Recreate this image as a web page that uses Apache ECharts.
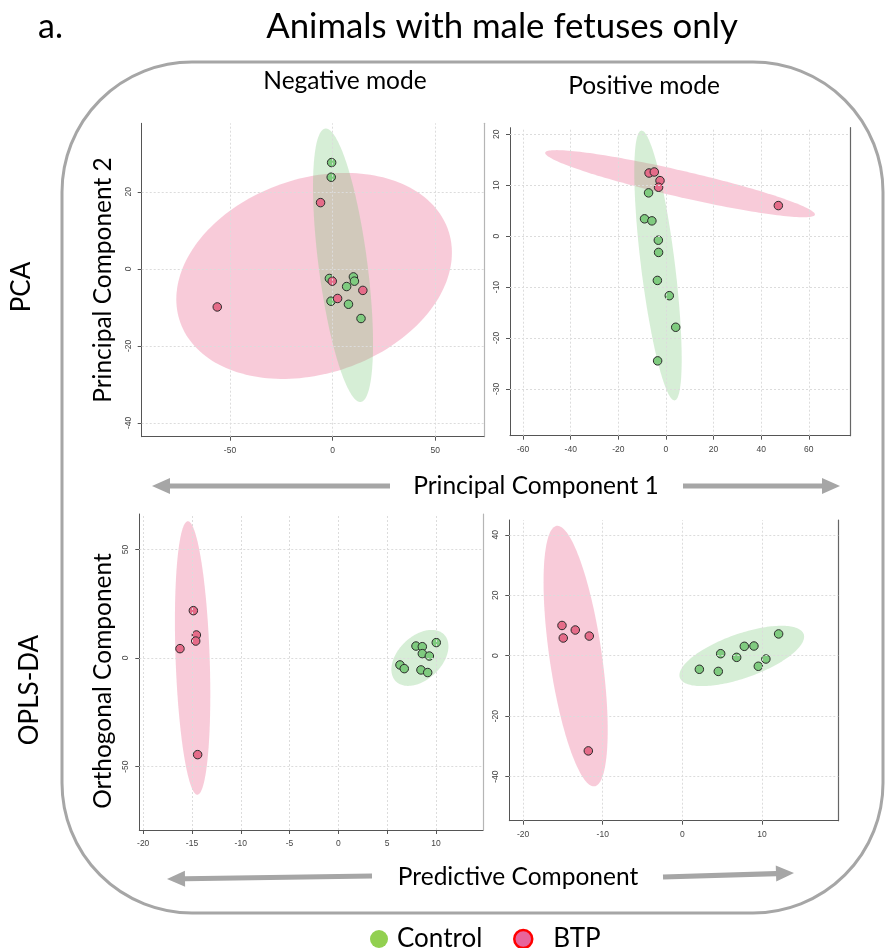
<!DOCTYPE html>
<html>
<head>
<meta charset="utf-8">
<script src="https://cdn.jsdelivr.net/npm/echarts@6/dist/echarts.min.js"></script>
<style>
  html, body { margin: 0; padding: 0; background: #fff; }
  #chart { width: 885px; height: 948px; }
</style>
</head>
<body>
<div id="chart"></div>
<script>
// Score coordinates per sample, [x, y]
const pcaNegControl = [[-0.5, 27.6], [-0.7, 23.8], [-1.6, -2.5], [10.1, -2.1], [10.6, -3.2], [6.8, -4.6], [-0.8, -8.4], [7.7, -9.2], [13.8, -12.9]];
const pcaNegBTP = [[-5.9, 17.2], [-56.2, -9.9], [-0.2, -3.2], [2.4, -7.7], [14.7, -5.6]];
const pcaPosControl = [[-7.3, 8.5], [-9.0, 3.4], [-5.9, 3.0], [-3.2, -0.8], [-3.1, -3.2], [-3.6, -8.7], [1.4, -11.7], [4.1, -17.9], [-3.5, -24.5]];
const pcaPosBTP = [[-7.1, 12.4], [-4.9, 12.6], [-2.5, 10.9], [-3.1, 9.6], [47.2, 6.0]];
const oplsNegControl = [[7.96, 5.5], [8.61, 5.2], [10.04, 7.1], [8.61, 2.0], [9.33, 0.9], [6.32, -3.2], [6.76, -4.9], [8.47, -5.5], [9.16, -6.7]];
const oplsNegBTP = [[-14.86, 21.8], [-14.55, 10.6], [-14.62, 7.8], [-16.23, 4.3], [-14.42, -44.5]];
const oplsPosControl = [[2.14, -4.5], [4.52, -5.2], [4.82, 0.66], [6.83, -0.55], [7.79, 3.1], [9.0, 3.2], [9.55, -3.5], [10.5, -1.1], [12.1, 7.2]];
const oplsPosBTP = [[-15.12, 10.0], [-14.96, 5.85], [-13.45, 8.5], [-11.69, 6.5], [-11.81, -31.5]];

// Tick values per panel
const pcaNegXTicks = [-50, 0, 50];
const pcaNegYTicks = [-40, -20, 0, 20];
const pcaPosXTicks = [-60, -40, -20, 0, 20, 40, 60];
const pcaPosYTicks = [-30, -20, -10, 0, 10, 20];
const oplsNegXTicks = [-20, -15, -10, -5, 0, 5, 10];
const oplsNegYTicks = [-50, 0, 50];
const oplsPosXTicks = [-20, -10, 0, 10];
const oplsPosYTicks = [-40, -20, 0, 20, 40];

const groupNames = ['Control', 'BTP'];

// Panel layout (pixels) and axis extents
const panels = [
  { control: pcaNegControl, btp: pcaNegBTP, xTicks: pcaNegXTicks, yTicks: pcaNegYTicks,
    grid: { left: 141.7, top: 123.3, width: 342.3, height: 313.4 },
    x: [-93, 73.7], y: [-43.6, 37.8], rightColor: '#b5b5b5' },
  { control: pcaPosControl, btp: pcaPosBTP, xTicks: pcaPosXTicks, yTicks: pcaPosYTicks,
    grid: { left: 510, top: 127.7, width: 340, height: 308 },
    x: [-65.5, 77.3], y: [-39.2, 21.3], rightColor: '#666' },
  { control: oplsNegControl, btp: oplsNegBTP, xTicks: oplsNegXTicks, yTicks: oplsNegYTicks,
    grid: { left: 139.3, top: 514, width: 343.7, height: 316 },
    x: [-20.4, 14.83], y: [-79.2, 66.3], rightColor: '#b5b5b5' },
  { control: oplsPosControl, btp: oplsPosBTP, xTicks: oplsPosXTicks, yTicks: oplsPosYTicks,
    grid: { left: 509.3, top: 520, width: 329, height: 300.7 },
    x: [-21.74, 19.6], y: [-54.6, 44.9], rightColor: '#666' }
];

// 95% confidence ellipse of a group (chi-square, 2 df), from mean and covariance
function confidenceEllipse(points) {
  const n = points.length;
  let mx = 0, my = 0;
  points.forEach(p => { mx += p[0]; my += p[1]; });
  mx /= n; my /= n;
  let sxx = 0, syy = 0, sxy = 0;
  points.forEach(p => {
    const dx = p[0] - mx, dy = p[1] - my;
    sxx += dx * dx; syy += dy * dy; sxy += dx * dy;
  });
  sxx /= (n - 1); syy /= (n - 1); sxy /= (n - 1);
  const a = Math.sqrt(sxx);
  const b = sxy / a;
  const c = Math.sqrt(Math.max(syy - b * b, 0));
  const r = Math.sqrt(-2 * Math.log(0.05));
  const poly = [];
  for (let i = 0; i < 180; i++) {
    const t = (i / 180) * Math.PI * 2;
    poly.push([mx + r * a * Math.cos(t), my + r * (b * Math.cos(t) + c * Math.sin(t))]);
  }
  return { center: [mx, my], poly: poly };
}

const FONT = 'Lato';
const TICK_FONT = 'Liberation Sans';
const CONTROL_FILL = '#7fcb7f';
const BTP_FILL = '#e56c89';
const CONTROL_AREA = 'rgba(120,200,120,0.3)';
const BTP_AREA = 'rgba(231,84,128,0.3)';

const grids = [], xAxes = [], yAxes = [], series = [];

panels.forEach((p, i) => {
  grids.push(Object.assign({ containLabel: false }, p.grid));
  xAxes.push({
    type: 'value', gridIndex: i, min: p.x[0], max: p.x[1],
    axisLine: { show: true, onZero: false, lineStyle: { color: '#555', width: 1 } },
    axisTick: { show: true, length: 4, customValues: p.xTicks, lineStyle: { color: '#555' } },
    axisLabel: { customValues: p.xTicks, fontSize: 8.5, color: '#444', fontFamily: TICK_FONT, margin: 9 },
    splitLine: { show: false }
  });
  yAxes.push({
    type: 'value', gridIndex: i, min: p.y[0], max: p.y[1],
    axisLine: { show: true, onZero: false, lineStyle: { color: '#555', width: 1 } },
    axisTick: { show: true, length: 4, customValues: p.yTicks, lineStyle: { color: '#555' } },
    axisLabel: { customValues: p.yTicks, fontSize: 8.5, color: '#444', fontFamily: TICK_FONT, rotate: 90, margin: 9 },
    splitLine: { show: false }
  });
});
// right-hand frame lines
panels.forEach((p, i) => {
  yAxes.push({
    type: 'value', gridIndex: i, position: 'right', min: p.y[0], max: p.y[1],
    axisLine: { show: true, onZero: false, lineStyle: { color: p.rightColor, width: 1.2 } },
    axisTick: { show: false }, axisLabel: { show: false }, splitLine: { show: false }
  });
});

panels.forEach((p, i) => {
  // dotted reference grid at the tick values
  series.push({
    type: 'scatter', name: 'ref' + i, xAxisIndex: i, yAxisIndex: i, data: [], z: 0, silent: true,
    markLine: {
      silent: true, symbol: ['none', 'none'], animation: false,
      label: { show: false },
      lineStyle: { color: '#dcdcdc', type: [2, 2], width: 1 },
      emphasis: { disabled: true },
      data: p.xTicks.map(v => ({ xAxis: v })).concat(p.yTicks.map(v => ({ yAxis: v })))
    }
  });
  // group ellipses
  [[p.btp, BTP_AREA], [p.control, CONTROL_AREA]].forEach(([pts, fill]) => {
    const el = confidenceEllipse(pts);
    series.push({
      type: 'custom', xAxisIndex: i, yAxisIndex: i, z: 1, silent: true,
      data: [el.center],
      encode: { x: 0, y: 1 },
      renderItem: function (params, api) {
        return {
          type: 'polygon',
          shape: { points: el.poly.map(q => api.coord(q)) },
          style: { fill: fill, stroke: null }
        };
      }
    });
  });
  // sample scores
  series.push({
    type: 'scatter', name: groupNames[0], xAxisIndex: i, yAxisIndex: i, z: 3,
    data: p.control, symbolSize: 8.5,
    itemStyle: { color: CONTROL_FILL, borderColor: '#2b2b2b', borderWidth: 1, opacity: 1 }
  });
  series.push({
    type: 'scatter', name: groupNames[1], xAxisIndex: i, yAxisIndex: i, z: 4,
    data: p.btp, symbolSize: 8.5,
    itemStyle: { color: BTP_FILL, borderColor: '#2b2b2b', borderWidth: 1, opacity: 1 }
  });
});

// block arrow from tail to tip
function arrow(tail, tip) {
  const dx = tip[0] - tail[0], dy = tip[1] - tail[1];
  const len = Math.sqrt(dx * dx + dy * dy);
  const ux = dx / len, uy = dy / len, nx = -uy, ny = ux;
  const headLen = 18, headHalf = 8, shaftHalf = 2.6;
  const bx = tip[0] - ux * headLen, by = tip[1] - uy * headLen;
  const pts = [
    [tail[0] + nx * shaftHalf, tail[1] + ny * shaftHalf],
    [bx + nx * shaftHalf, by + ny * shaftHalf],
    [bx + nx * headHalf, by + ny * headHalf],
    tip,
    [bx - nx * headHalf, by - ny * headHalf],
    [bx - nx * shaftHalf, by - ny * shaftHalf],
    [tail[0] - nx * shaftHalf, tail[1] - ny * shaftHalf]
  ];
  return { type: 'polygon', shape: { points: pts }, style: { fill: '#a6a6a6' }, silent: true };
}

function label(text, x, y, size, rot) {
  return {
    type: 'text', x: x, y: y, rotation: rot || 0, silent: true,
    style: { text: text, fontSize: size, fontFamily: FONT, fill: '#000', align: 'center', verticalAlign: 'middle' }
  };
}

const graphics = [
  { type: 'rect', shape: { x: 62, y: 62, width: 821, height: 851, r: 130 }, silent: true, z: -1,
    style: { fill: 'none', stroke: '#a6a6a6', lineWidth: 3 } },
  { type: 'text', x: 38, y: 27, silent: true,
    style: { text: 'a.', fontSize: 34, fontFamily: FONT, fill: '#000', align: 'left', verticalAlign: 'middle' } },
  label('Animals with male fetuses only', 502, 27, 34.8),
  label('Negative mode', 345, 81, 24.5),
  label('Positive mode', 644, 86, 24.5),
  label('PCA', 22, 287, 26, Math.PI / 2),
  label('OPLS-DA', 30, 690, 26, Math.PI / 2),
  label('Principal Component 2', 103, 280, 24.5, Math.PI / 2),
  label('Orthogonal Component', 103, 681, 24.5, Math.PI / 2),
  label('Principal Component 1', 536, 486, 24.5),
  label('Predictive Component', 518, 877, 24.5),
  arrow([390, 486], [152, 486]),
  arrow([683, 486], [840, 486]),
  arrow([372, 876], [167, 879]),
  arrow([663, 877], [794, 873])
];

const chart = echarts.init(document.getElementById('chart'), null, { renderer: 'canvas' });
chart.setOption({
  animation: false,
  backgroundColor: '#fff',
  grid: grids,
  xAxis: xAxes,
  yAxis: yAxes,
  series: series,
  legend: [
    { data: [{ name: 'Control', icon: 'circle', itemStyle: { color: '#92d050', borderWidth: 0 } }],
      left: 365, top: 921, itemWidth: 18, itemHeight: 18, selectedMode: false,
      textStyle: { fontSize: 26, fontFamily: FONT, color: '#000', padding: [0, 0, 0, 4] } },
    { data: [{ name: 'BTP', icon: 'circle', itemStyle: { color: '#e8649b', borderColor: '#ff0000', borderWidth: 2.5 } }],
      left: 508, top: 921, itemWidth: 18, itemHeight: 18, selectedMode: false,
      textStyle: { fontSize: 26, fontFamily: FONT, color: '#000', padding: [0, 0, 0, 16] } }
  ],
  graphic: graphics
});
</script>
</body>
</html>
